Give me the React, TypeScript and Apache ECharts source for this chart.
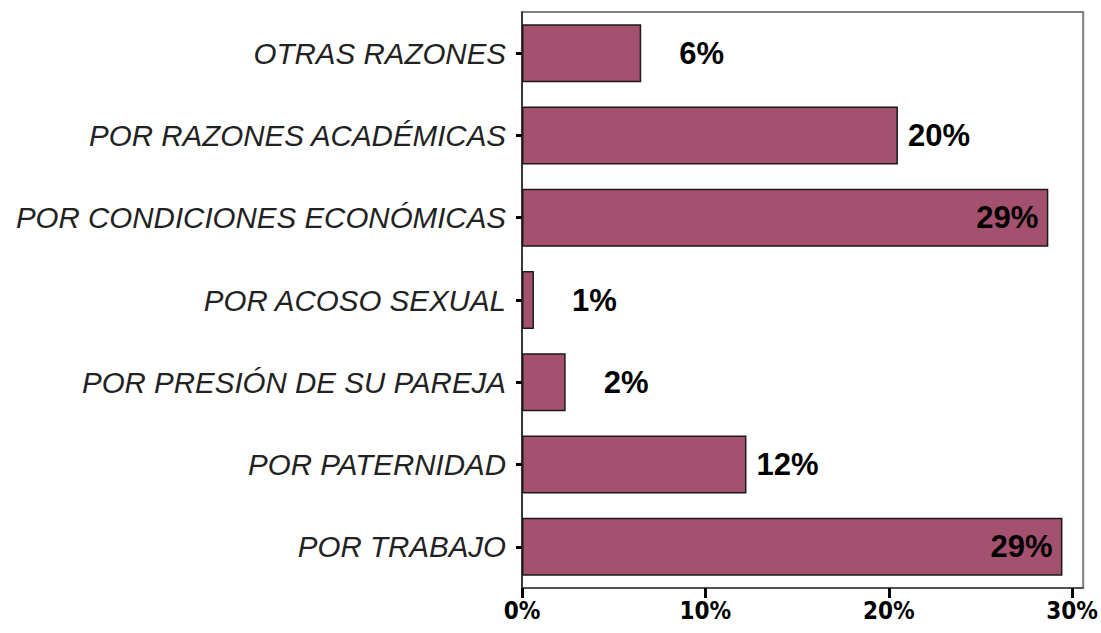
import React, { useEffect, useRef } from "react";
import * as echarts from "echarts";

const categories = [
  "OTRAS RAZONES",
  "POR RAZONES ACADÉMICAS",
  "POR CONDICIONES ECONÓMICAS",
  "POR ACOSO SEXUAL",
  "POR PRESIÓN DE SU PAREJA",
  "POR PATERNIDAD",
  "POR TRABAJO",
];
const values = [6.5, 20.5, 28.7, 0.65, 2.38, 12.24, 29.47];
const valueLabels = ["6%", "20%", "29%", "1%", "2%", "12%", "29%"];
const xTicks = [0, 10, 20, 30];

export default function App() {
  const ref = useRef<HTMLDivElement>(null);
  useEffect(() => {
    if (!ref.current) return;
    const chart = echarts.init(ref.current, null, { renderer: "svg" });
    const data = values.map((v, i) => {
      const inside = v > 25;
      const dist = inside ? 10 : v < 10 ? 38 : 10;
      return {
        value: v,
        label: {
          show: true,
          position: inside ? "insideRight" : "right",
          distance: dist,
          formatter: valueLabels[i],
          fontFamily: "'Liberation Sans', Arial, sans-serif",
          fontWeight: "bold",
          fontSize: 31,
          color: "#000",
        },
      };
    });
    chart.setOption({
      animation: false,
      backgroundColor: "#fff",
      grid: {
        left: 522,
        right: 14,
        top: 12,
        bottom: 45,
        show: true,
        borderColor: "#808080",
        borderWidth: 2,
        backgroundColor: "transparent",
      },
      xAxis: {
        type: "value",
        min: 0,
        max: 30.6,
        splitLine: { show: false },
        axisLine: { show: true, lineStyle: { color: "#444", width: 1.5 } },
        axisTick: {
          show: true,
          length: 10,
          customValues: xTicks,
          lineStyle: { color: "#000", width: 3 },
        },
        axisLabel: {
          customValues: xTicks,
          formatter: (v: number) => `${v}%`,
          margin: 11,
          fontFamily: "'DejaVu Sans Condensed', 'Liberation Sans Narrow', sans-serif",
          fontWeight: "bold",
          fontSize: 24,
          color: "#000",
        },
      },
      yAxis: {
        type: "category",
        data: categories,
        inverse: true,
        axisLine: { show: true, lineStyle: { color: "#222", width: 1.5 } },
        axisTick: {
          show: true,
          alignWithLabel: true,
          length: 6,
          lineStyle: { color: "#000", width: 3 },
        },
        axisLabel: {
          margin: 16,
          fontFamily: "'Liberation Sans', Arial, sans-serif",
          fontStyle: "italic",
          fontSize: 29.5,
          color: "#222",
        },
      },
      series: [
        {
          type: "bar",
          data,
          barCategoryGap: "29.5%",
          itemStyle: {
            color: "#a4516f",
            borderColor: "#1a1a1a",
            borderWidth: 1.5,
          },
        },
      ],
    });
    return () => chart.dispose();
  }, []);
  return (
    <div
      ref={ref}
      style={{ position: "absolute", left: 0, top: 0, width: 1101, height: 633 }}
    />
  );
}
